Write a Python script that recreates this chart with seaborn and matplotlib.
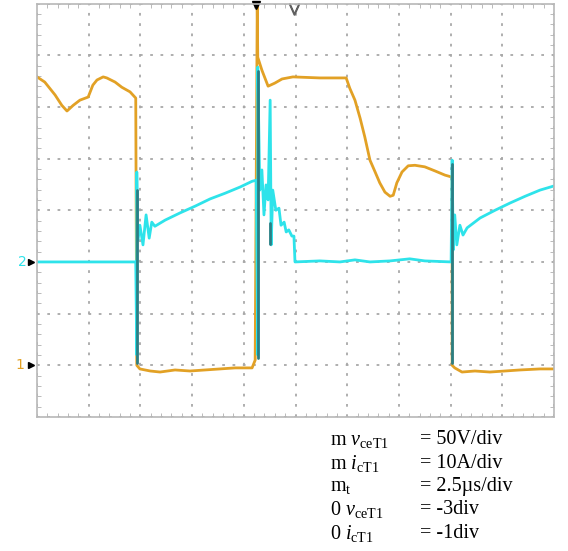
import numpy as np
import pandas as pd
import matplotlib
matplotlib.use("Agg")
import matplotlib.pyplot as plt
import seaborn as sns

# ---- data (oscilloscope divisions: x 0..10, y 0..8) ----
v_x = [0, 0.15, 0.35, 0.48, 0.58, 0.70, 0.83, 0.99, 1.08, 1.16, 1.28, 1.35, 1.51, 1.64, 1.80, 1.91,
       1.93, 1.99, 2.19, 2.38, 2.67, 2.96, 3.25, 3.54, 3.83, 4.16, 4.22, 4.26, 4.27, 4.35, 4.47,
       4.60, 4.74, 4.95, 5.47, 5.98, 6.05, 6.15, 6.25, 6.34, 6.44, 6.54, 6.63, 6.73, 6.83, 6.89,
       6.96, 7.06, 7.18, 7.31, 7.50, 7.70, 7.89, 8.03, 8.03, 8.08, 8.22, 8.47, 8.76, 9.05, 9.34,
       9.73, 10.0]
v_y = [6.58, 6.48, 6.23, 6.03, 5.92, 6.03, 6.13, 6.19, 6.42, 6.52, 6.58, 6.56, 6.48, 6.38, 6.29, 6.17,
       1.00, 0.93, 0.89, 0.87, 0.91, 0.89, 0.91, 0.93, 0.95, 0.95, 1.10, 7.97, 6.96, 6.71, 6.40,
       6.46, 6.54, 6.58, 6.56, 6.56, 6.36, 6.13, 5.78, 5.42, 4.97, 4.74, 4.53, 4.35, 4.27, 4.29,
       4.53, 4.74, 4.86, 4.87, 4.84, 4.76, 4.68, 4.64, 1.00, 0.95, 0.87, 0.89, 0.87, 0.89, 0.91,
       0.93, 0.93]

i_x = [0, 1.91, 1.93, 1.93, 1.95, 1.99, 2.05, 2.11, 2.17, 2.22, 2.28, 2.48, 2.77, 3.06, 3.35, 3.64,
       3.93, 4.16, 4.24, 4.27, 4.27, 4.31, 4.35, 4.39, 4.43, 4.47, 4.51, 4.53, 4.56, 4.62, 4.68,
       4.72, 4.78, 4.82, 4.87, 4.93, 4.97, 4.99, 5.47, 5.86, 6.15, 6.44, 6.83, 7.21, 7.50, 8.01,
       8.03, 8.05, 8.08, 8.12, 8.18, 8.24, 8.32, 8.57, 8.86, 9.15, 9.44, 9.73, 10.0]
i_y = [3.00, 3.00, 1.20, 4.74, 3.42, 3.71, 3.33, 3.91, 3.46, 3.77, 3.69, 3.81, 3.95, 4.08, 4.22, 4.33,
       4.45, 4.56, 4.58, 1.20, 6.77, 4.39, 4.78, 3.91, 4.49, 4.20, 6.13, 3.33, 4.39, 4.00, 4.04,
       3.71, 3.77, 3.58, 3.62, 3.50, 3.50, 3.00, 3.02, 3.00, 3.04, 3.00, 3.02, 3.06, 3.02, 3.00,
       4.97, 3.23, 3.91, 3.33, 3.71, 3.52, 3.66, 3.85, 4.00, 4.14, 4.27, 4.39, 4.47]

# dark overlap segments (where both traces coincide on the screen)
dark_x = [1.93, 1.93, None, 4.27, 4.27, None, 4.51, 4.51, None, 8.03, 8.03]
dark_y = [1.05, 4.40, None, 1.15, 6.70, None, 3.35, 3.75, None, 1.05, 4.90]

labels_left = [r"m $v_{\mathrm{ceT1}}$", r"m $i_{\mathrm{cT1}}$", r"m$_{\mathrm{t}}$",
               r"0 $v_{\mathrm{ceT1}}$", r"0 $i_{\mathrm{cT1}}$"]
labels_right = ["= 50V/div", "= 10A/div", "= 2.5\u00b5s/div", "= -3div", "= -1div"]

ORANGE = "#E2A125"
CYAN = "#2EE3EA"
DARK = "#2B7E84"

sns.set_style("white")
plt.rcParams["font.family"] = ["Liberation Serif", "DejaVu Serif"]
plt.rcParams["mathtext.fontset"] = "custom"
plt.rcParams["mathtext.rm"] = "Liberation Serif"
plt.rcParams["mathtext.it"] = "Liberation Serif:italic"
plt.rcParams["text.color"] = "black"

fig = plt.figure(figsize=(5.68, 5.51), dpi=100)
ax = fig.add_axes([37 / 568, 1 - 417 / 551, 517 / 568, 413.5 / 551])

df_v = pd.DataFrame({"t": v_x, "y": v_y, "idx": range(len(v_x))})
df_i = pd.DataFrame({"t": i_x, "y": i_y, "idx": range(len(i_x))})

sns.lineplot(data=df_v, x="t", y="y", sort=False, estimator=None, color=ORANGE, lw=2.0, ax=ax)
sns.lineplot(data=df_i, x="t", y="y", sort=False, estimator=None, color=CYAN, lw=2.0, ax=ax)
ax.plot([d if d is not None else np.nan for d in dark_x],
        [d if d is not None else np.nan for d in dark_y], color=DARK, lw=2.0)

ax.set_xlim(0, 10)
ax.set_ylim(0, 8)
ax.set_xticks(np.arange(0, 11, 1))
ax.set_yticks(np.arange(0, 9, 1))
ax.set_xticks(np.arange(0, 10.01, 0.2), minor=True)
ax.set_yticks(np.arange(0, 8.01, 0.2), minor=True)
ax.set_xticklabels([])
ax.set_yticklabels([])
ax.set_xlabel("")
ax.set_ylabel("")
ax.grid(True, which="major", color="#A8A8A8", linestyle=(0, (1.5, 4.2)), lw=1.3)
ax.set_axisbelow(True)
ax.tick_params(which="both", direction="in", length=3, color="#B0B0B0",
               top=True, right=True, bottom=True, left=True)
ax.tick_params(which="major", length=0)
for s in ax.spines.values():
    s.set_color("#B8B8B8")
    s.set_linewidth(1.2)

# channel markers
ax.text(-0.29, 3.0, "2", color=CYAN, fontsize=10, ha="center", va="center",
        family="DejaVu Sans", clip_on=False)
ax.plot([-0.12], [3.0], marker=">", color="black", ms=5, clip_on=False)
ax.text(-0.33, 1.0, "1", color=ORANGE, fontsize=10, ha="center", va="center",
        family="DejaVu Sans", clip_on=False)
ax.plot([-0.12], [1.0], marker=">", color="black", ms=5, clip_on=False)
ax.plot([4.24], [7.97], marker="v", color="black", ms=6, clip_on=False)
ax.plot([4.97], [7.9], marker="$\\vee$", color="#606060", ms=8, clip_on=False)

# scale text
ys = [440, 463, 487, 510, 533]
for yy, l, r in zip(ys, labels_left, labels_right):
    fig.text(330 / 568, 1 - yy / 551, l, fontsize=14.5, ha="left", va="center", color="black")
    fig.text(420 / 568, 1 - yy / 551, r, fontsize=14.5, ha="left", va="center", color="black")

fig.savefig("out.png", dpi=100, facecolor="white")
